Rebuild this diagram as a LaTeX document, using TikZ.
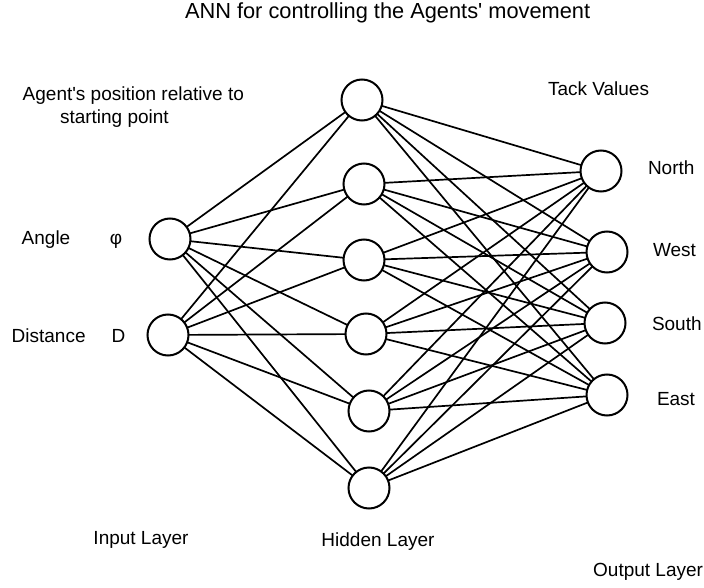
\documentclass[tikz,border=0pt]{standalone}
\usepackage{fontspec}
\setmainfont{Liberation Sans}[Ligatures=TeXOff]
\begin{document}
\begin{tikzpicture}[x=1pt,y=-1pt,
  neuron/.style={circle,draw=black,line width=2pt,minimum size=41pt,inner sep=0pt,outer sep=0pt,fill=white},
  link/.style={draw=black,line width=1.7pt},
  lbl/.style={inner sep=0pt,outer sep=0pt,font=\fontsize{19}{22}\selectfont,text=black},
  ttl/.style={inner sep=0pt,outer sep=0pt,font=\fontsize{21.8}{25}\selectfont,text=black}]
\useasboundingbox (0,0) rectangle (704,588);
% neurons
\node[neuron] (i1) at (170,239) {};
\node[neuron] (i2) at (168,335) {};
\node[neuron] (h1) at (362,100) {};
\node[neuron] (h2) at (364,184) {};
\node[neuron] (h3) at (364,260) {};
\node[neuron] (h4) at (366,334) {};
\node[neuron] (h5) at (369,411) {};
\node[neuron] (h6) at (369,488) {};
\node[neuron] (o1) at (601,171) {};
\node[neuron] (o2) at (607,252) {};
\node[neuron] (o3) at (605,323) {};
\node[neuron] (o4) at (607,395) {};
% connections
\foreach \a in {i1,i2}{\foreach \b in {h1,h2,h3,h4,h5,h6}{\draw[link] (\a) -- (\b);}}
\foreach \a in {h1,h2,h3,h4,h5,h6}{\foreach \b in {o1,o2,o3,o4}{\draw[link] (\a) -- (\b);}}
% texts
\node[ttl,anchor=base west] (title) at (185,18.5) {ANN for controlling the Agents' movement};
\node[lbl,anchor=base west] (pos1) at (22.7,100.7) {Agent's position relative to};
\node[lbl,anchor=base west] (pos2) at (60,123.3) {starting point};
\node[lbl,anchor=base west] (tack) at (548,96) {Tack Values};
\node[lbl,anchor=base west] (angle) at (21.7,244.3) {Angle};
\node[lbl,anchor=base] (phi) at (116,244.3) {φ};
\node[lbl,anchor=base west] (dist) at (11.7,342.7) {Distance};
\node[lbl,anchor=base west] (dd) at (111.7,342.7) {D};
\node[lbl,anchor=base west] (north) at (648,175) {North};
\node[lbl,anchor=base west] (west) at (653,256.7) {West};
\node[lbl,anchor=base west] (south) at (652,330) {South};
\node[lbl,anchor=base west] (east) at (657,405) {East};
\node[lbl,anchor=base] (inl) at (141,544) {Input Layer};
\node[lbl,anchor=base] (hidl) at (378,546) {Hidden Layer};
\node[lbl,anchor=base east] (outl) at (703,576) {Output Layer};
\end{tikzpicture}
\end{document}
